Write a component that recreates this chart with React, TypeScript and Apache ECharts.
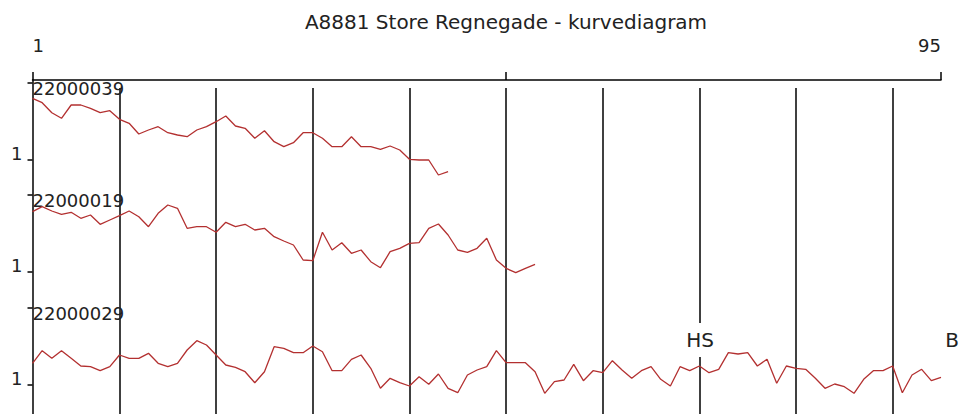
import React, { useEffect, useRef } from "react";
import * as echarts from "echarts";

const TITLE = "A8881 Store Regnegade - kurvediagram";
const X_MIN = 1;
const X_MAX = 95;
const TOP_TICKS = [1, 50, 95];
const TOP_LABELS = [1, 95];
const PANEL_NAMES = ["22000039", "22000019", "22000029"];
const PANEL_TOPS = [83, 195, 308];

const series39 = [
  61.7, 57.3, 47.3, 41.7, 55, 55, 51.7, 47.3, 49.3, 40.7,
  36.7, 26, 30, 33.3, 27.3, 25, 23.3, 30, 33.3, 38.3,
  44, 34, 31.7, 21.7, 29.3, 18.3, 13.3, 17.3, 27.3, 27.3,
  21.7, 13.3, 13.3, 23.3, 13.3, 13.3, 10.7, 14, 10, 0.7,
  0, 0, -15, -11.7,
];

const series19 = [
  60.3, 65.3, 61, 57.7, 59.7, 53.7, 57, 47.7, 52, 56.3,
  61, 55.3, 45.3, 58.7, 67, 63.7, 43.7, 45.3, 45.3, 39.7,
  49.7, 45.3, 47.7, 42, 43.7, 35.3, 31, 27, 12, 11.3,
  39.7, 22, 29.3, 18.7, 22, 10.3, 4.3, 20.3, 23.7, 28.7,
  29.3, 43.7, 48, 37, 22, 19.7, 23.7, 33.7, 12, 3.7,
  -0.7, 3.7, 7.7,
];

const series29 = [
  21.7, 34.3, 26.7, 34.3, 26.7, 19, 18.3, 14.3, 18.3, 30,
  26.7, 26.7, 31.7, 21.7, 18.3, 21.7, 35, 44.3, 40, 30,
  20, 17.7, 13.3, 2.3, 13.3, 38.3, 36.7, 32.3, 32.3, 39,
  33.3, 14.3, 14.3, 25.7, 30, 16.7, -3.3, 6.7, 2.3, -1,
  8.3, 0.7, 11, -3.3, -7.7, 10, 15, 18.3, 34.3, 22.3,
  22.3, 22.3, 13.3, -8.3, 3.3, 5, 20.7, 4.3, 14.3, 12.3,
  24.3, 15, 6.7, 14.3, 18.3, 5.7, -1, 18.3, 14.3, 19,
  12.3, 15.7, 32.3, 31, 32.3, 19, 25.7, 1.7, 19, 16.7,
  15.7, 6.7, -3.3, 1, -1.7, -8.3, 5.7, 14.3, 14.3, 19,
  -7.7, 10, 15.7, 4.3, 7.7,
];

const PANEL_DATA = [series39, series19, series29];
const Y_MAX = 77;

const FONT = "DejaVu Sans";
const INK = "#222";
const LINE_RED = "#b33030";

export default function App() {
  const ref = useRef<HTMLDivElement>(null);

  useEffect(() => {
    document.body.style.margin = "0";
    if (!ref.current) return;
    const chart = echarts.init(ref.current, undefined, { renderer: "svg" });

    const axisLineStyle = { color: "#000", width: 1.5 };
    const unit = (941 - 32.5) / (X_MAX - X_MIN);

    const grids: any[] = [
      { left: 32.5, right: 28, top: 80, bottom: 0 },
      { left: 32.5 - unit, right: 28, top: 88, bottom: 0 },
      ...PANEL_TOPS.map((t) => ({ left: 32.5, right: 28, top: t, height: Y_MAX })),
    ];

    const xAxes: any[] = [
      {
        gridIndex: 0,
        type: "value",
        position: "top",
        min: X_MIN,
        max: X_MAX,
        axisLine: { show: true, onZero: false, lineStyle: axisLineStyle },
        axisTick: { show: true, customValues: TOP_TICKS, length: 8, lineStyle: axisLineStyle },
        axisLabel: {
          show: true,
          customValues: TOP_LABELS,
          margin: 26,
          fontSize: 18,
          fontFamily: FONT,
          color: INK,
          alignMinLabel: "left",
          alignMaxLabel: "right",
        },
        splitLine: { show: false },
      },
      {
        gridIndex: 1,
        type: "value",
        min: 0,
        max: X_MAX,
        interval: 10,
        axisLine: { show: false },
        axisTick: { show: false },
        axisLabel: { show: false },
        splitLine: {
          show: true,
          showMinLine: false,
          showMaxLine: false,
          lineStyle: axisLineStyle,
        },
      },
      ...PANEL_TOPS.map((_, i) => ({
        gridIndex: i + 2,
        type: "value",
        min: X_MIN,
        max: X_MAX,
        show: false,
      })),
    ];

    const yAxes: any[] = [
      {
        gridIndex: 0,
        type: "value",
        min: 0,
        max: 1,
        axisLine: { show: true, onZero: false, lineStyle: axisLineStyle },
        axisTick: { show: false },
        axisLabel: { show: false },
        splitLine: { show: false },
      },
      { gridIndex: 1, type: "value", min: 0, max: 1, show: false },
      ...PANEL_NAMES.map((name, i) => ({
        gridIndex: i + 2,
        type: "value",
        min: 0,
        max: Y_MAX,
        interval: Y_MAX,
        name,
        nameLocation: "end",
        nameGap: 4,
        nameTextStyle: {
          align: "left",
          verticalAlign: "top",
          fontSize: 18,
          fontFamily: FONT,
          color: INK,
        },
        axisLine: { show: false, onZero: false },
        axisTick: { show: true, length: 5, lineStyle: axisLineStyle },
        axisLabel: {
          show: true,
          formatter: (v: number) => (v === 0 ? "1" : ""),
          fontSize: 18,
          fontFamily: FONT,
          color: INK,
          margin: 10,
          verticalAlign: "bottom",
          lineHeight: 14,
        },
        splitLine: { show: false },
      })),
    ];

    const series: any[] = PANEL_DATA.map((arr, i) => ({
      type: "line",
      xAxisIndex: i + 2,
      yAxisIndex: i + 2,
      data: arr.map((v, k) => [k + 1, v]),
      showSymbol: false,
      symbol: "none",
      clip: false,
      lineStyle: { color: LINE_RED, width: 1.3 },
      z: 5,
    }));

    chart.setOption({
      animation: false,
      backgroundColor: "#fff",
      title: {
        text: TITLE,
        left: 501,
        top: 7,
        textAlign: "center",
        textStyle: { fontSize: 20, fontWeight: "normal", fontFamily: FONT, color: INK },
      },
      grid: grids,
      xAxis: xAxes,
      yAxis: yAxes,
      series,
      graphic: [
        {
          type: "text",
          x: 700,
          y: 340,
          z: 100,
          style: {
            text: "HS",
            fontSize: 20,
            fontFamily: FONT,
            fill: INK,
            align: "center",
            verticalAlign: "middle",
            backgroundColor: "#fff",
            padding: [7, 1],
          },
        },
        {
          type: "text",
          x: 952,
          y: 340,
          z: 100,
          style: {
            text: "B",
            fontSize: 20,
            fontFamily: FONT,
            fill: INK,
            align: "center",
            verticalAlign: "middle",
          },
        },
      ],
    });

    return () => chart.dispose();
  }, []);

  return <div ref={ref} style={{ width: 969, height: 414 }} />;
}
